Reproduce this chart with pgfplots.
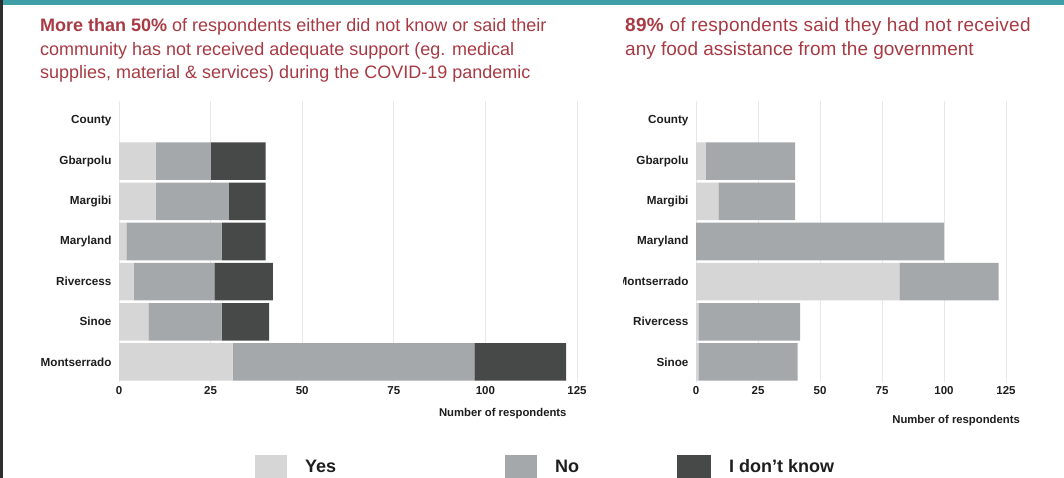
\documentclass[border=0pt]{standalone}
\usepackage{pgfplots}
\pgfplotsset{compat=1.18}
\usepackage{fontspec}
\setmainfont{Liberation Sans}
\newfontfamily\spacedfont[LetterSpace=1.3]{Liberation Sans}
\definecolor{yescol}{HTML}{D6D6D6}
\definecolor{nocol}{HTML}{A5A8AB}
\definecolor{idkcol}{HTML}{474948}
\definecolor{titlecol}{HTML}{A83A44}
\definecolor{topbar}{HTML}{3F9FA7}
\definecolor{edgecol}{HTML}{2E2E2E}
\definecolor{gridcol}{HTML}{E8E8E8}
\definecolor{labcol}{HTML}{1E1E1E}

\pgfplotsset{
  mybar/.style={
    xbar stacked, scale only axis, height=281pt,
    xmin=0, xmax=125, ymin=-0.5, ymax=6.5, y dir=reverse,
    bar width=0.935,
    axis line style={draw=none}, major tick length=0pt,
    xtick={0,25,50,75,100,125}, ytick={0,1,2,3,4,5,6},
    xmajorgrids, ymajorgrids=false,
    major grid style={draw=gridcol, line width=0.9pt},
    xticklabel style={font=\bfseries\fontsize{11.5}{13}\selectfont, text=labcol, yshift=-1pt},
    yticklabel style={font=\bfseries\fontsize{11.7}{13}\selectfont, text=labcol, xshift=-4pt},
    /pgf/number format/assume math mode=true,
    xlabel style={font=\bfseries\fontsize{11.3}{13}\selectfont, text=labcol},
    every axis plot/.append style={draw=none},
  }
}

\begin{document}
\begin{tikzpicture}
\begin{scope}[x=1pt,y=1pt]
\useasboundingbox (0,0) rectangle (1064,478);
\fill[white] (0,0) rectangle (1064,478);
\fill[topbar] (0,473) rectangle (1064,478);
\fill[edgecol] (0,0) rectangle (3,478);
\end{scope}

% titles
\begin{scope}[x=1pt,y=1pt,every node/.style={inner sep=0pt, anchor=base west, text=titlecol, font=\fontsize{18}{21}\selectfont}]
\node at (40,446) {\textbf{More than 50\%} of respondents either did not know or said their};
\node at (40,422.5) {community has not received adequate support (eg. medical};
\node at (40,399) {supplies, material \& services) during the COVID-19 pandemic};
\node[font=\spacedfont\fontsize{19}{22}\selectfont] at (625,446) {\textbf{89\%} of respondents said they had not received};
\node[font=\fontsize{19}{22}\selectfont] at (625,422.5) {any food assistance from the government};
\end{scope}

% left chart
\begin{axis}[mybar, width=458pt, at={(119pt,96pt)}, anchor=south west,
  yticklabels={County,Gbarpolu,Margibi,Maryland,Rivercess,Sinoe,Montserrado},
  xlabel={Number of respondents},
  xlabel style={at={(axis description cs:0.838,-0.114)}, anchor=center}]
\addplot[fill=yescol] coordinates {(10,1) (10,2) (2,3) (4,4) (8,5) (31,6)};
\addplot[fill=nocol] coordinates {(15,1) (20,2) (26,3) (22,4) (20,5) (66,6)};
\addplot[fill=idkcol] coordinates {(15,1) (10,2) (12,3) (16,4) (13,5) (25,6)};
\end{axis}

% right chart
\begin{scope}
\clip (623pt,0pt) rectangle (1064pt,478pt);
\begin{axis}[mybar, width=310pt, at={(696pt,96pt)}, anchor=south west,
  yticklabels={County,Gbarpolu,Margibi,Maryland,Montserrado,Rivercess,Sinoe},
  xlabel={Number of respondents},
  xlabel style={at={(axis description cs:0.839,-0.139)}, anchor=center}]
\addplot[fill=yescol] coordinates {(4,1) (9,2) (0,3) (82,4) (1,5) (1,6)};
\addplot[fill=nocol] coordinates {(36,1) (31,2) (100,3) (40,4) (41,5) (40,6)};
\end{axis}
\end{scope}

% legend
\begin{scope}[x=1pt,y=1pt]
\fill[yescol] (255,0) rectangle (287,23);
\fill[nocol] (505,0) rectangle (537,23);
\fill[idkcol] (677,0) rectangle (711,23);
\end{scope}
\begin{scope}[x=1pt,y=1pt,every node/.style={inner sep=0pt, anchor=base west, text=labcol, font=\bfseries\fontsize{18}{20}\selectfont}]
\node at (305,5) {Yes};
\node at (555,5) {No};
\node at (729,5) {I don't know};
\end{scope}
\end{tikzpicture}
\end{document}
